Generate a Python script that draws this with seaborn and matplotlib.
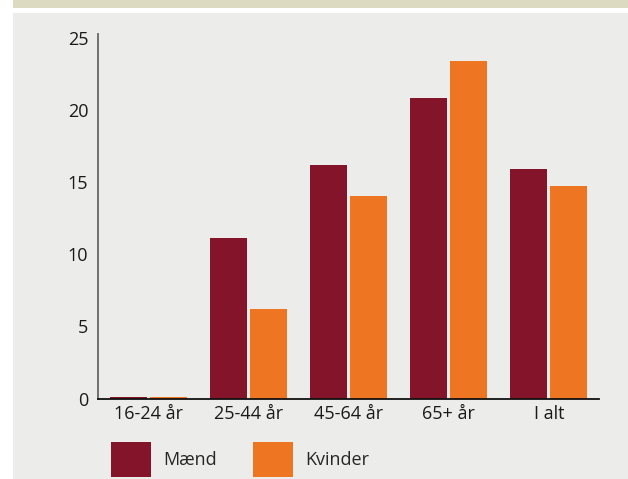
import matplotlib
matplotlib.use("Agg")
import matplotlib.pyplot as plt
from matplotlib.patches import Rectangle
import pandas as pd
import seaborn as sns

# Data
categories = ["16-24 år", "25-44 år", "45-64 år", "65+ år", "I alt"]
maend = [0.1, 11.1, 16.2, 20.8, 15.9]
kvinder = [0.1, 6.2, 14.0, 23.4, 14.7]
series_names = ["Mænd", "Kvinder"]
y_ticks = [0, 5, 10, 15, 20, 25]

colors = ["#84142A", "#EE7623"]
panel_bg = "#ECECEA"
band_color = "#DDDAC2"

df = pd.DataFrame({
    "Aldersgruppe": categories * 2,
    "Andel": maend + kvinder,
    "Køn": [series_names[0]] * len(categories) + [series_names[1]] * len(categories),
})

sns.set_theme(style="white")
plt.rcParams["font.family"] = ["Open Sans", "DejaVu Sans"]

W, H = 628, 479
fig = plt.figure(figsize=(W / 100, H / 100), dpi=100, facecolor="white")

# Panel background and top band
fig.patches.append(Rectangle((13 / W, 0), 1 - 13 / W, 1 - 13 / H,
                             transform=fig.transFigure, facecolor=panel_bg,
                             edgecolor="none", zorder=-2))
fig.patches.append(Rectangle((13 / W, 1 - 8 / H), 1 - 13 / W, 8 / H,
                             transform=fig.transFigure, facecolor=band_color,
                             edgecolor="none", zorder=-2))

ax_left, ax_right = 98 / W, 599 / W
ax_bottom, ax_top = 1 - 398.5 / H, 1 - 34 / H
ax = fig.add_axes([ax_left, ax_bottom, ax_right - ax_left, ax_top - ax_bottom])
ax.set_facecolor("none")

sns.barplot(data=df, x="Aldersgruppe", y="Andel", hue="Køn",
            palette=colors, width=0.8, gap=0.075, saturation=1,
            edgecolor="none", ax=ax)

ax.set_xlim(-0.5, len(categories) - 0.5)
ax.set_ylim(0, 25.25)
ax.set_yticks(y_ticks)
ax.set_xlabel("")
ax.set_ylabel("")
ax.tick_params(axis="both", length=0, labelsize=13, colors="#1a1a1a")
ax.tick_params(axis="y", pad=7)
ax.tick_params(axis="x", pad=5)

for side in ["top", "right"]:
    ax.spines[side].set_visible(False)
ax.spines["left"].set_color("#666666")
ax.spines["left"].set_linewidth(1.3)
ax.spines["bottom"].set_color("#111111")
ax.spines["bottom"].set_linewidth(1.3)
ax.spines["left"].set_zorder(5)
ax.spines["bottom"].set_zorder(5)

sns.move_legend(ax, "center left", bbox_to_anchor=(111 / W, 1 - 459.5 / H),
                bbox_transform=fig.transFigure, ncol=2, frameon=False,
                title=None, fontsize=13, handlelength=2.2, handleheight=2.65,
                handletextpad=0.7, columnspacing=2.0, borderpad=0,
                borderaxespad=0)

fig.savefig("out.png", dpi=100, facecolor="white")
